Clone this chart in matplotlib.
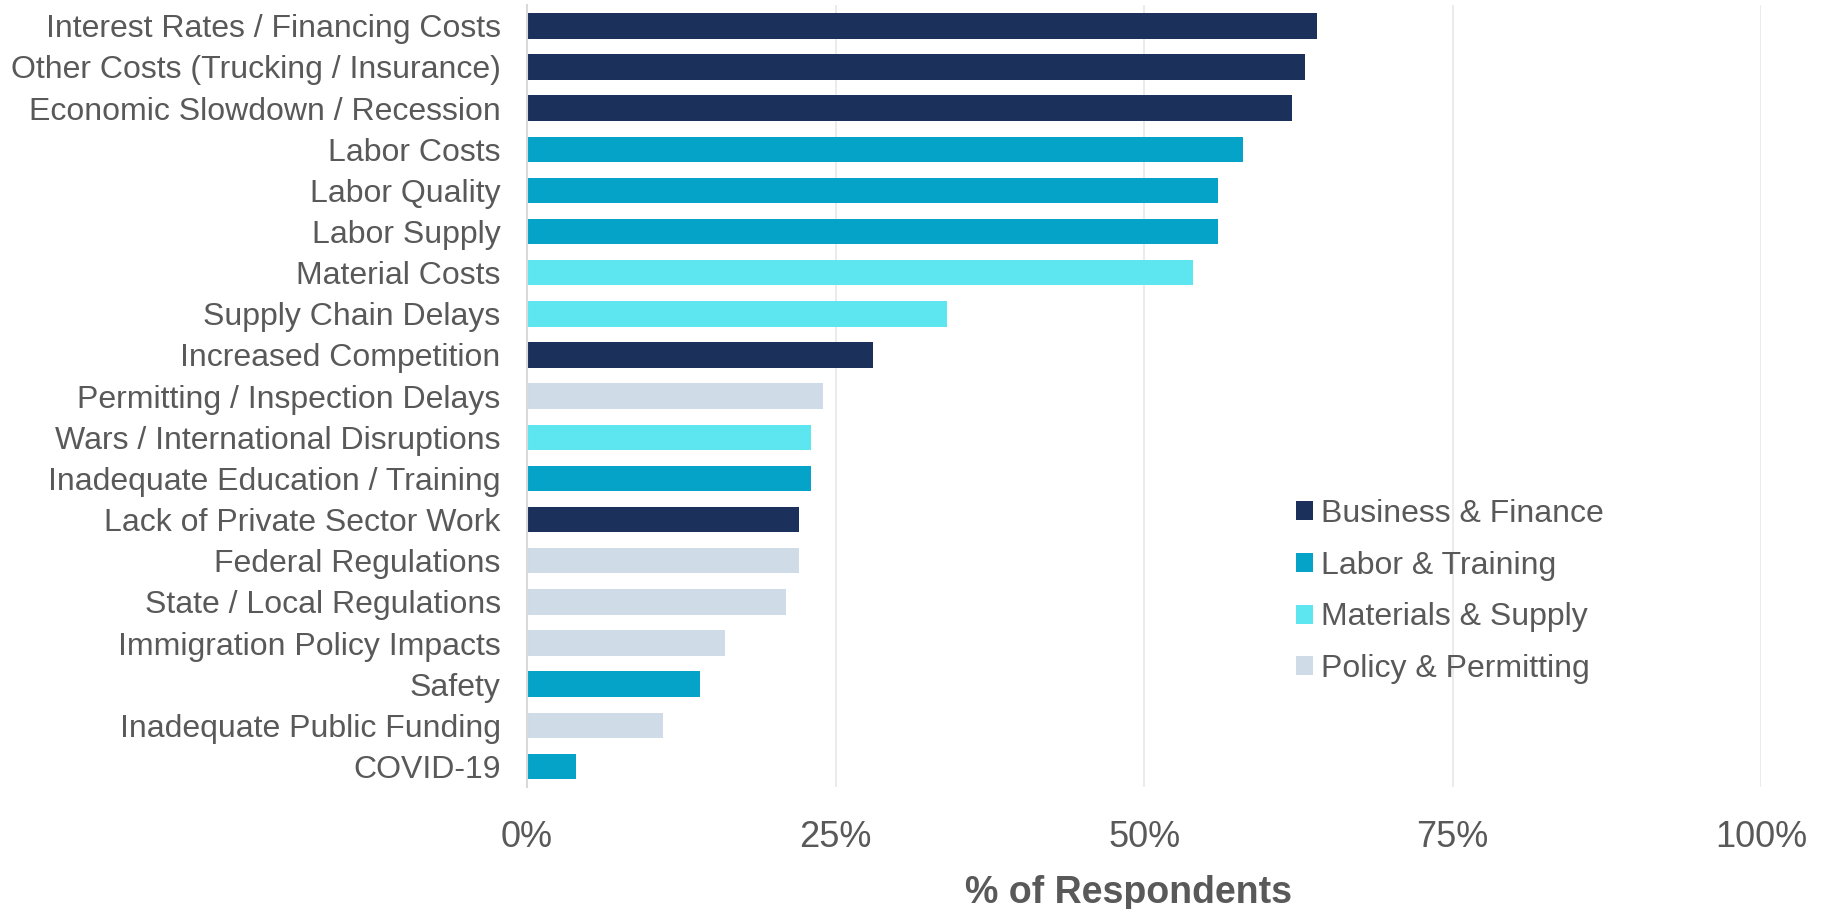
import matplotlib.pyplot as plt
from matplotlib.patches import Patch
from matplotlib.ticker import PercentFormatter

plt.rcParams['font.family'] = ['Liberation Sans', 'DejaVu Sans']

issues = [
    'Interest Rates / Financing Costs',
    'Other Costs (Trucking / Insurance)',
    'Economic Slowdown / Recession',
    'Labor Costs',
    'Labor Quality',
    'Labor Supply',
    'Material Costs',
    'Supply Chain Delays',
    'Increased Competition',
    'Permitting / Inspection Delays',
    'Wars / International Disruptions',
    'Inadequate Education / Training',
    'Lack of Private Sector Work',
    'Federal Regulations',
    'State / Local Regulations',
    'Immigration Policy Impacts',
    'Safety',
    'Inadequate Public Funding',
    'COVID-19',
]
pct = [64, 63, 62, 58, 56, 56, 54, 34, 28, 24, 23, 23, 22, 22, 21, 16, 14, 11, 4]
group = ['Business & Finance', 'Business & Finance', 'Business & Finance',
         'Labor & Training', 'Labor & Training', 'Labor & Training',
         'Materials & Supply', 'Materials & Supply', 'Business & Finance',
         'Policy & Permitting', 'Materials & Supply', 'Labor & Training',
         'Business & Finance', 'Policy & Permitting', 'Policy & Permitting',
         'Policy & Permitting', 'Labor & Training', 'Policy & Permitting',
         'Labor & Training']

groups = ['Business & Finance', 'Labor & Training', 'Materials & Supply', 'Policy & Permitting']
colors = {'Business & Finance': '#1B305A', 'Labor & Training': '#05A3C7',
          'Materials & Supply': '#5EE6F0', 'Policy & Permitting': '#CFDBE6'}

text_col = '#595959'

fig = plt.figure(figsize=(18.22, 9.09), dpi=100)
ax = fig.add_axes([0.2893, 0.1342, 0.6773, 0.860])

ypos = list(range(len(issues)))
ax.barh(ypos, pct, height=0.62, color=[colors[g] for g in group], zorder=3)
ax.set_ylim(len(issues) - 0.5, -0.5)
ax.set_xlim(0, 100)
ax.set_yticks(ypos)
ax.set_yticklabels(issues)
ax.set_xticks([0, 25, 50, 75, 100])
ax.xaxis.set_major_formatter(PercentFormatter(decimals=0))
ax.tick_params(axis='y', length=0, pad=19, labelsize=23, labelcolor=text_col)
ax.tick_params(axis='x', length=0, pad=24, labelsize=26, labelcolor=text_col)

ax.grid(axis='x', color='#E8E8E8', linewidth=1.2, zorder=0)
for side in ['top', 'right', 'bottom']:
    ax.spines[side].set_visible(False)
ax.spines['left'].set_color('#D9D9D9')
ax.spines['left'].set_linewidth(1.5)
ax.spines['left'].set_zorder(4)

ax.set_xlabel('% of Respondents', fontsize=27, fontweight='bold', color=text_col)
ax.xaxis.set_label_coords(0.487, -0.112)

handles = [Patch(facecolor=colors[g], edgecolor='none') for g in groups]
leg = ax.legend(handles, groups, loc='upper left', bbox_to_anchor=(1296 / 1822, 1 - 499 / 909),
                bbox_transform=fig.transFigure, frameon=False, fontsize=23,
                handlelength=0.53, handleheight=0.53, handletextpad=0.25,
                labelspacing=0.68, borderpad=0, borderaxespad=0)
for t in leg.get_texts():
    t.set_color(text_col)

fig.savefig('out.png', dpi=100)
